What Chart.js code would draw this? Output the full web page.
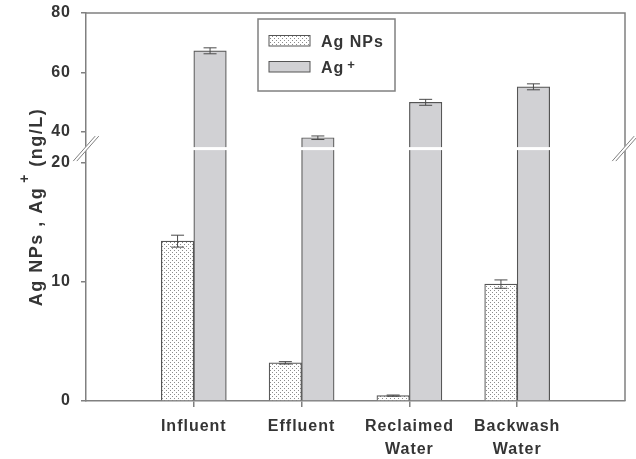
<!DOCTYPE html>
<html><head><meta charset="utf-8">
<script src="https://cdn.jsdelivr.net/npm/chart.js@4.4.1/dist/chart.umd.min.js"></script>
<style>html,body{margin:0;padding:0;background:#fff;}</style>
</head><body>
<canvas id="c" width="636" height="459"></canvas>
<script>
// ---- data ----
const categories = ['Influent', 'Effluent', 'Reclaimed Water', 'Backwash Water'];
const agNPs      = [13.4, 3.2, 0.45, 9.8];
const agNPsErr   = [0.5, 0.1, 0.05, 0.35];
const agIon      = [67.3, 38.1, 50.0, 55.2];
const agIonErr   = [1.0, 0.6, 1.0, 1.0];
const yTicks     = [0, 10, 20, 40, 60, 80];
const seriesNames = ['Ag NPs', 'Ag'];
const axisTitle  = ['Ag NPs , Ag', '+', ' (ng/L)'];

// ---- broken axis geometry (layout, not data) ----
const BRK = {lowMax: 21.16, highMin: 34.45, max: 80, frac: 0.6505};
const FONT = '"Liberation Sans", Arial, sans-serif';
const TXT = '#353535';
const AXIS = '#808080';
const ION_FILL = '#d1d1d4';
const EDGE = '#555555';

class BrokenScale extends Chart.LinearScale {
  buildTicks() { return yTicks.map(v => ({value: v})); }
  getPixelForValue(v) {
    let d;
    if (v <= BRK.lowMax) d = v / BRK.lowMax * BRK.frac;
    else if (v >= BRK.highMin) d = BRK.frac + (v - BRK.highMin) / (BRK.max - BRK.highMin) * (1 - BRK.frac);
    else d = BRK.frac;
    return this.getPixelForDecimal(d);
  }
  getValueForPixel(p) {
    const d = this.getDecimalForPixel(p);
    return d <= BRK.frac ? d / BRK.frac * BRK.lowMax
      : BRK.highMin + (d - BRK.frac) / (1 - BRK.frac) * (BRK.max - BRK.highMin);
  }
}
BrokenScale.id = 'broken';
BrokenScale.defaults = Chart.LinearScale.defaults;
Chart.register(BrokenScale);

const canvas = document.getElementById('c');
const ctx0 = canvas.getContext('2d');
const pc = document.createElement('canvas'); pc.width = 4; pc.height = 4;
const pctx = pc.getContext('2d');
pctx.fillStyle = '#fff'; pctx.fillRect(0, 0, 4, 4);
pctx.fillStyle = '#8c8c8c'; pctx.fillRect(0, 0, 1, 1); pctx.fillRect(2, 2, 1, 1);
const dots = ctx0.createPattern(pc, 'repeat');

const labels = ['', ...categories.map(c => c.split(' ')), ''];
const pad = a => [null, ...a, null];

const spacingPlugin = {
  id: 'spacing',
  beforeDraw(chart) { chart.ctx.letterSpacing = '1px'; }
};

const decorPlugin = {
  id: 'decor',
  afterDatasetsDraw(chart) {
    const ctx = chart.ctx, y = chart.scales.y;
    const breakY = y.getPixelForDecimal(BRK.frac);
    ctx.save();
    const metaIon = chart.getDatasetMeta(1);
    metaIon.data.forEach((bar, i) => {
      const v = chart.data.datasets[1].data[i];
      if (v == null || v < BRK.highMin) return;
      ctx.fillStyle = '#ffffff';
      ctx.fillRect(bar.x - bar.width / 2 - 1.5, breakY - 1.5, bar.width + 3, 3);
    });
    chart.data.datasets.forEach((ds, di) => {
      const meta = chart.getDatasetMeta(di);
      meta.data.forEach((bar, i) => {
        const v = ds.data[i], e = ds.err[i];
        if (v == null || e == null) return;
        const yt = y.getPixelForValue(v + e), yb = y.getPixelForValue(v - e);
        ctx.strokeStyle = '#4a4a4a'; ctx.lineWidth = 1;
        ctx.beginPath();
        ctx.moveTo(bar.x, yt); ctx.lineTo(bar.x, yb);
        ctx.moveTo(bar.x - 6.5, yt); ctx.lineTo(bar.x + 6.5, yt);
        ctx.moveTo(bar.x - 6.5, yb); ctx.lineTo(bar.x + 6.5, yb);
        ctx.stroke();
      });
    });
    ctx.restore();
  },
  afterDraw(chart) {
    const ctx = chart.ctx, a = chart.chartArea, y = chart.scales.y;
    const breakY = y.getPixelForDecimal(BRK.frac);
    ctx.save();
    ctx.strokeStyle = AXIS; ctx.lineWidth = 1.5;
    ctx.beginPath();
    ctx.moveTo(a.left, a.top); ctx.lineTo(a.right, a.top); ctx.lineTo(a.right, a.bottom);
    ctx.stroke();
    [a.left, a.right].forEach(cx => {
      ctx.strokeStyle = '#ffffff'; ctx.lineWidth = 3;
      ctx.beginPath(); ctx.moveTo(cx - 11, breakY + 12.5); ctx.lineTo(cx + 11, breakY - 12.5); ctx.stroke();
      ctx.strokeStyle = AXIS; ctx.lineWidth = 1;
      [-1.8, 1.8].forEach(o => {
        ctx.beginPath(); ctx.moveTo(cx - 11 + o, breakY + 12.5); ctx.lineTo(cx + 11 + o, breakY - 12.5); ctx.stroke();
      });
    });
    const lx = a.left + 172, ly = a.top + 6;
    ctx.strokeStyle = AXIS; ctx.lineWidth = 1.5;
    ctx.strokeRect(lx, ly, 137, 72);
    const sw = [[dots, ly + 16.5], [ION_FILL, ly + 42.5]];
    sw.forEach(([f, yy]) => {
      ctx.fillStyle = f; ctx.fillRect(lx + 11, yy, 41, 10.5);
      ctx.strokeStyle = EDGE; ctx.lineWidth = 1; ctx.strokeRect(lx + 11, yy, 41, 10.5);
    });
    ctx.letterSpacing = '1px';
    ctx.fillStyle = TXT; ctx.textBaseline = 'alphabetic'; ctx.textAlign = 'left';
    ctx.font = 'bold 16px ' + FONT;
    ctx.fillText(seriesNames[0], lx + 63, ly + 27.5);
    ctx.fillText(seriesNames[1], lx + 63, ly + 53.5);
    const w = ctx.measureText(seriesNames[1]).width;
    ctx.font = 'bold 13px ' + FONT;
    ctx.fillText('+', lx + 63 + w + 3, ly + 49.5);
    ctx.translate(41.5, (a.top + a.bottom) / 2);
    ctx.rotate(-Math.PI / 2);
    ctx.letterSpacing = '1.5px';
    ctx.font = 'bold 18px ' + FONT;
    const w1 = ctx.measureText(axisTitle[0]).width;
    const w3 = ctx.measureText(axisTitle[2]).width;
    ctx.font = 'bold 14px ' + FONT;
    const w2 = ctx.measureText(axisTitle[1]).width;
    const gap = 4;
    let x0 = -(w1 + gap + w2 + w3) / 2;
    ctx.font = 'bold 18px ' + FONT;
    ctx.fillText(axisTitle[0], x0, 0);
    ctx.font = 'bold 14px ' + FONT;
    ctx.fillText(axisTitle[1], x0 + w1 + gap, -13);
    ctx.font = 'bold 18px ' + FONT;
    ctx.fillText(axisTitle[2], x0 + w1 + gap + w2, 0);
    ctx.restore();
  }
};

new Chart(canvas, {
  type: 'bar',
  data: {
    labels,
    datasets: [
      {label: seriesNames[0], data: pad(agNPs), err: pad(agNPsErr), backgroundColor: dots,
       borderColor: EDGE, borderWidth: 1.2, barThickness: 32.5},
      {label: seriesNames[1], data: pad(agIon), err: pad(agIonErr), backgroundColor: ION_FILL,
       borderColor: EDGE, borderWidth: 1.2, barThickness: 32.5}
    ]
  },
  options: {
    responsive: false,
    animation: false,
    devicePixelRatio: 1,
    layout: {padding: {top: 13, right: 11, left: 0, bottom: 0}},
    plugins: {legend: {display: false}, tooltip: {enabled: false}},
    scales: {
      x: {
        type: 'category', offset: false,
        grid: {offset: false, drawOnChartArea: false, drawTicks: true, tickLength: 6, lineWidth: 1.5,
               tickColor: c => (c.index === 0 || c.index === labels.length - 1) ? 'rgba(0,0,0,0)' : AXIS},
        border: {color: AXIS, width: 1.5},
        ticks: {font: {family: FONT, size: 16, weight: 'bold', lineHeight: 1.45}, color: TXT,
                padding: 8, maxRotation: 0, autoSkip: false},
        afterFit: s => { s.height = 58; s.paddingLeft = 0; s.paddingRight = 0; }
      },
      y: {
        type: 'broken', min: 0, max: 80,
        grid: {drawOnChartArea: false, tickLength: 5, lineWidth: 1.5, color: AXIS},
        border: {color: AXIS, width: 1.5},
        ticks: {font: {family: FONT, size: 16, weight: 'bold'}, color: TXT, padding: 10},
        afterFit: s => { s.width = 86; s.paddingTop = 0; s.paddingBottom = 0; }
      }
    }
  },
  plugins: [spacingPlugin, decorPlugin]
});
</script>
</body></html>
